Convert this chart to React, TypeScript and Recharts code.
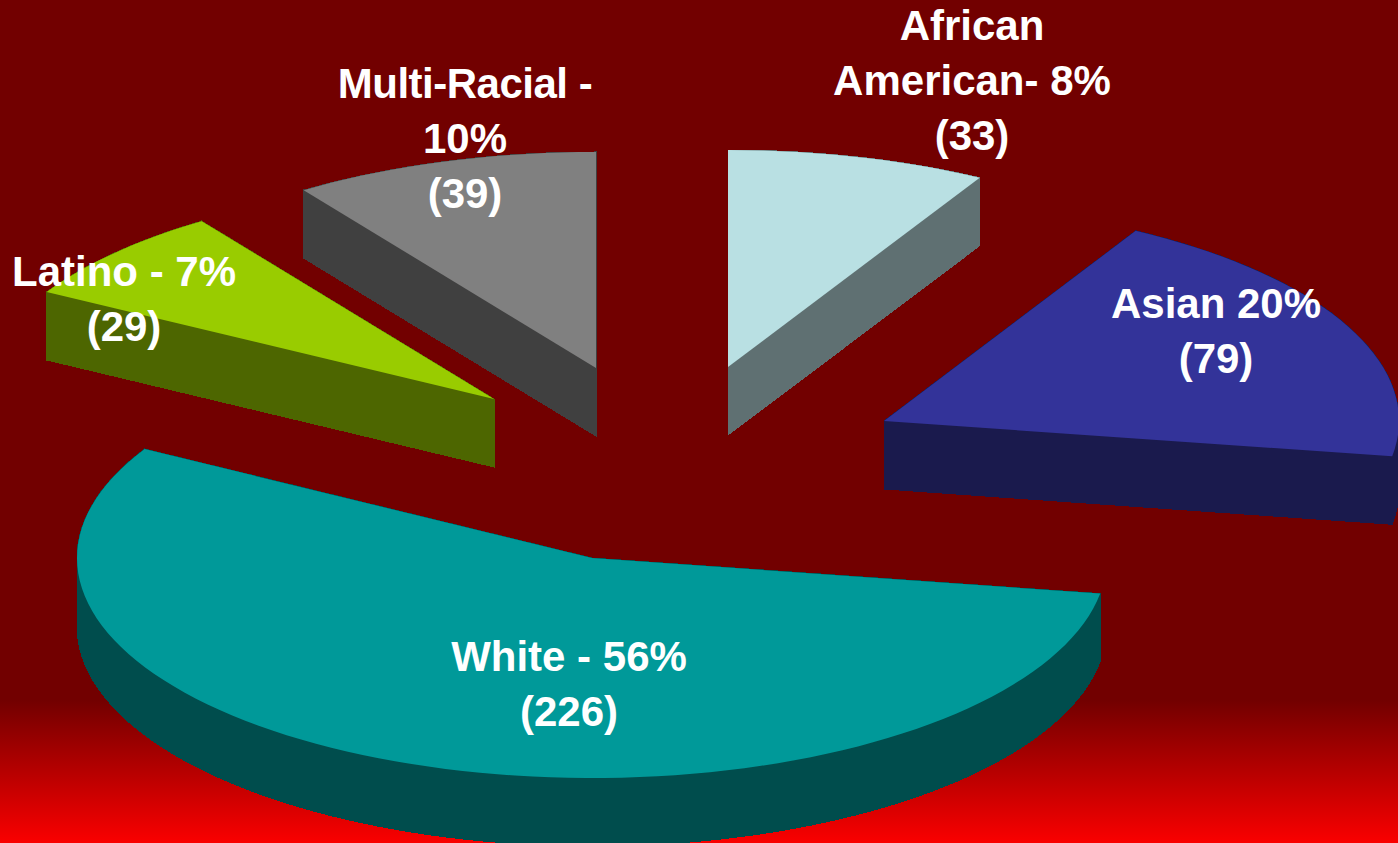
import React from 'react';
import { PieChart, Pie } from 'recharts';

const categories = ['African American', 'Asian', 'White', 'Latino', 'Multi-Racial'];
const counts = [33, 79, 226, 29, 39];
const labelLines = [
  ['African', 'American- 8%', '(33)'],
  ['Asian 20%', '(79)'],
  ['White - 56%', '(226)'],
  ['Latino - 7%', '(29)'],
  ['Multi-Racial -', '10%', '(39)'],
];

const data = categories.map((name, i) => ({ name, value: counts[i] }));

const WIDTH = 1398;
const HEIGHT = 843;
const CX = 660;
const CY = 420;
const RADIUS = 515;
const DEPTH = 68;

// how far each slice is pulled out of the pie, its flattened height, top colour, side colour
const sliceStyles = [
  { dx: 68, dy: -53, ry: 217, top: '#b9e0e3', side: '#5f7072' },
  { dx: 224, dy: 1, ry: 218, top: '#333399', side: '#1a1a4d' },
  { dx: -68, dy: 138, ry: 220, top: '#009999', side: '#004d4d' },
  { dx: -166, dy: -21, ry: 216, top: '#99cc00', side: '#4d6600' },
  { dx: -64, dy: -52, ry: 216, top: '#808080', side: '#404040' },
];

// centre x and first baseline of each label
const labelSpots = [
  { x: 972, y: 40 },
  { x: 1216, y: 318 },
  { x: 569, y: 671 },
  { x: 124, y: 286 },
  { x: 465, y: 98 },
];

const toPath = (pts: number[][]) => 'M' + pts.map((p) => p.join(',')).join('L') + 'Z';

// flattened wedge with its extruded wall underneath
const Slice = (props: any) => {
  const { cx, cy, outerRadius, startAngle, endAngle, index } = props;
  const st = sliceStyles[index];
  const ox = cx + st.dx;
  const oy = cy + st.dy;
  const steps = Math.ceil(Math.abs(endAngle - startAngle) / 2);
  const pts: number[][] = [[ox, oy]];
  for (let i = 0; i <= steps; i++) {
    const a = ((startAngle + ((endAngle - startAngle) * i) / steps) * Math.PI) / 180;
    pts.push([ox + outerRadius * Math.cos(a), oy - st.ry * Math.sin(a)]);
  }
  const walls = pts.map((p, i) => {
    const q = pts[(i + 1) % pts.length];
    return toPath([p, q, [q[0], q[1] + DEPTH], [p[0], p[1] + DEPTH]]);
  });
  return (
    <g>
      <g fill={st.side} stroke={st.side} strokeWidth={1} shapeRendering="crispEdges">
        {walls.map((d, i) => (
          <path key={i} d={d} />
        ))}
      </g>
      <path d={toPath(pts)} fill={st.top} />
    </g>
  );
};

const SliceLabel = (props: any) => {
  const spot = labelSpots[props.index];
  return (
    <text
      x={spot.x}
      y={spot.y}
      textAnchor="middle"
      fill="#ffffff"
      fontFamily="'Liberation Sans', Arial, sans-serif"
      fontWeight="bold"
      fontSize={42}
    >
      {labelLines[props.index].map((line, i) => (
        <tspan
          key={i}
          x={spot.x}
          y={spot.y + i * 55}
          letterSpacing={line.startsWith('Multi') ? -0.5 : undefined}
        >
          {line}
        </tspan>
      ))}
    </text>
  );
};

export default function App() {
  return (
    <div
      style={{
        position: 'relative',
        width: WIDTH,
        height: HEIGHT,
        overflow: 'hidden',
        background: 'linear-gradient(to bottom, #720000 0px, #720000 700px, #fa0000 843px)',
      }}
    >
      <style>{'body{margin:0}'}</style>
      <PieChart width={WIDTH} height={HEIGHT} margin={{ top: 0, right: 0, bottom: 0, left: 0 }}>
        <Pie
          data={data}
          dataKey="value"
          nameKey="name"
          cx={CX}
          cy={CY}
          innerRadius={0}
          outerRadius={RADIUS}
          startAngle={90}
          endAngle={-270}
          stroke="none"
          shape={Slice}
          label={SliceLabel}
          labelLine={false}
          isAnimationActive={false}
        />
      </PieChart>
    </div>
  );
}
